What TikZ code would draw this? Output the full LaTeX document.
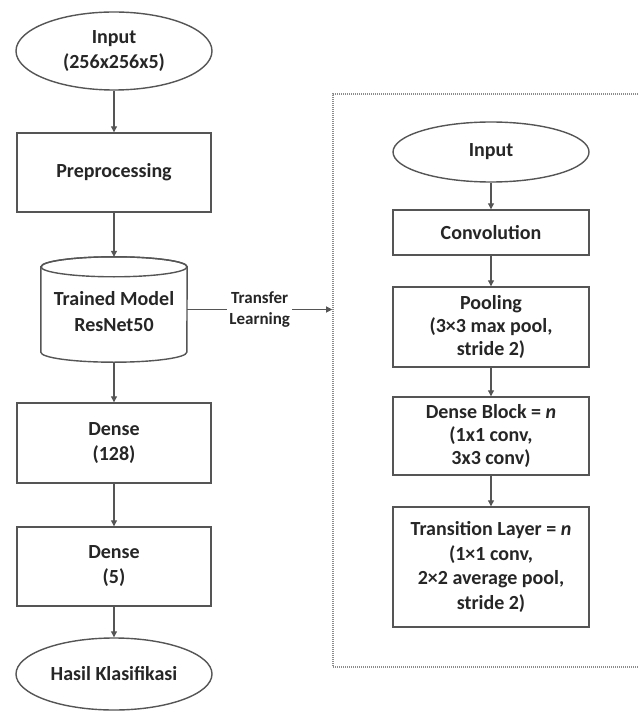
\documentclass[tikz,border=0pt]{standalone}
\usepackage{fontspec}
\setmainfont{Carlito}
\usetikzlibrary{arrows.meta,shapes.geometric,calc}
\definecolor{linec}{HTML}{555555}
\definecolor{txtc}{HTML}{262626}
\tikzset{
  shp/.style={draw=linec,line width=1.4pt,fill=white,text=txtc,align=center,
    font=\fontsize{20}{25}\selectfont\bfseries,inner sep=0pt},
  boxr/.style={shp,rectangle},
  ell/.style={shp,ellipse},
  arr/.style={draw=linec,line width=1.1pt,-{Triangle[width=6pt,length=6pt]}},
  frm/.style={draw=black!45,line width=1.6pt,dash pattern=on 1pt off 1pt},
  lbl/.style={fill=white,text=txtc,align=center,font=\fontsize{17}{21}\selectfont\bfseries,inner sep=2pt}
}
\begin{document}
\begin{tikzpicture}[x=1pt,y=-1pt]
\useasboundingbox (0,0) rectangle (638,711);
% dotted frame
\node[frm,minimum width=307pt,minimum height=573pt,inner sep=0pt] (frame) at (486.5,380.5) {};
% left column
\node[ell,minimum width=196pt,minimum height=78pt] (in1) at (114,51) {Input\\(256x256x5)};
\node[boxr,minimum width=194pt,minimum height=79pt] (pre) at (114,172.5) {Preprocessing};
\node[draw=none,text=txtc,align=center,font=\fontsize{20}{26}\selectfont\bfseries,minimum width=146pt,minimum height=105pt,inner sep=0pt] (tm) at (114,309.5) {};
\draw[draw=linec,line width=1.4pt,fill=white] ([yshift=-10pt]tm.north west) -- ([yshift=10pt]tm.south west)
  arc[start angle=180,end angle=360,x radius=73pt,y radius=10pt]
  -- ([yshift=-10pt]tm.north east)
  arc[start angle=0,end angle=180,x radius=73pt,y radius=10pt] -- cycle;
\draw[draw=linec,line width=1.4pt] ([yshift=-10pt]tm.north) ellipse[x radius=73pt,y radius=10pt];
\node[text=txtc,align=center,font=\fontsize{20}{26}\selectfont\bfseries] at ([yshift=-2pt]tm.center) {Trained Model\\ResNet50};
\node[boxr,minimum width=194pt,minimum height=80pt] (d128) at (114,443) {Dense\\(128)};
\node[boxr,minimum width=194pt,minimum height=79pt] (d5) at (114,566.5) {Dense\\(5)};
\node[ell,minimum width=196pt,minimum height=72pt] (out) at (114,674) {Hasil Klasifikasi};
% right column
\node[ell,minimum width=196pt,minimum height=60pt] (in2) at (491,152) {Input};
\node[boxr,minimum width=196pt,minimum height=45pt] (conv) at (491,232.5) {Convolution};
\node[boxr,minimum width=196pt,minimum height=80pt,font=\fontsize{20}{23}\selectfont\bfseries] (pool) at (491,327) {Pooling\\(3×3 max pool,\\stride 2)};
\node[boxr,minimum width=196pt,minimum height=78pt,font=\fontsize{20}{23}\selectfont\bfseries] (db) at (491,436) {Dense Block = \textit{n}\\(1x1 conv,\\3x3 conv)};
\node[boxr,minimum width=196pt,minimum height=120pt,font=\fontsize{20}{24.5}\selectfont\bfseries] (tl) at (491,567) {Transition Layer = \textit{n}\\(1×1 conv,\\2×2 average pool,\\stride 2)};
% connectors
\draw[arr] (in1) -- (pre);
\draw[arr] (pre) -- (tm.north);
\draw[arr] (tm.south) -- (d128);
\draw[arr] (d128) -- (d5);
\draw[arr] (d5) -- (out);
\draw[arr] (in2) -- (conv);
\draw[arr] (conv) -- (pool);
\draw[arr] (pool) -- (db);
\draw[arr] (db) -- (tl);
\draw[arr] (tm.east) -- node[lbl] {Transfer\\Learning} (frame.west |- tm.east);
\end{tikzpicture}
\end{document}
